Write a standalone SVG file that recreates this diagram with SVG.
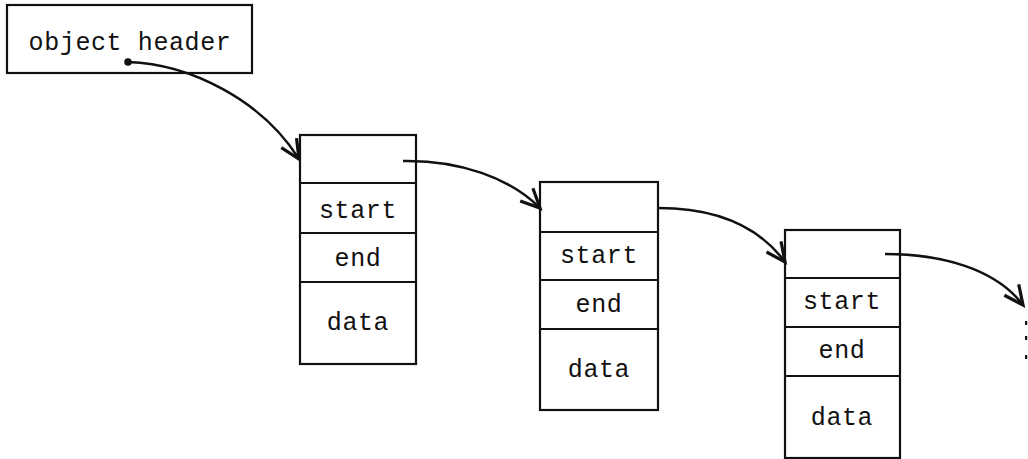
<svg xmlns="http://www.w3.org/2000/svg" width="1028" height="459" viewBox="0 0 1028 459">
<style>
.box{fill:#fff;stroke:#111;stroke-width:2.2}
.div{stroke:#111;stroke-width:1.8}
.t{font-family:"Liberation Mono",monospace;font-size:25px;letter-spacing:0.6px;fill:#111;text-anchor:middle}
.c{fill:none;stroke:#111;stroke-width:2.5}
</style>
<defs>
<marker id="ah" markerUnits="userSpaceOnUse" markerWidth="26" markerHeight="26" viewBox="0 0 26 26" refX="22" refY="13" orient="auto">
<path d="M3,4 L22,13 L3,22" fill="none" stroke="#111" stroke-width="3.2" stroke-linejoin="miter"/>
</marker>
</defs>
<g id="header">
<rect class="box" x="7" y="5" width="245" height="68"/>
<text class="t" x="130" y="50">object header</text>
</g>
<g id="node1">
<rect class="box" x="300" y="135" width="116" height="229"/>
<line class="div" x1="300" y1="183" x2="416" y2="183"/>
<line class="div" x1="300" y1="233" x2="416" y2="233"/>
<line class="div" x1="300" y1="282" x2="416" y2="282"/>
<text class="t" x="358" y="218">start</text>
<text class="t" x="358" y="266">end</text>
<text class="t" x="358" y="330">data</text>
</g>
<g id="node2">
<rect class="box" x="540" y="182" width="118" height="228"/>
<line class="div" x1="540" y1="232" x2="658" y2="232"/>
<line class="div" x1="540" y1="280" x2="658" y2="280"/>
<line class="div" x1="540" y1="329" x2="658" y2="329"/>
<text class="t" x="599" y="263">start</text>
<text class="t" x="599" y="312">end</text>
<text class="t" x="599" y="377">data</text>
</g>
<g id="node3">
<rect class="box" x="785" y="230" width="115" height="228"/>
<line class="div" x1="785" y1="278" x2="900" y2="278"/>
<line class="div" x1="785" y1="327" x2="900" y2="327"/>
<line class="div" x1="785" y1="376" x2="900" y2="376"/>
<text class="t" x="842" y="309">start</text>
<text class="t" x="842" y="358">end</text>
<text class="t" x="842" y="425">data</text>
</g>
<g id="connectors">
<circle cx="128" cy="62" r="3.8" fill="#111"/>
<path class="c" d="M128,62 C190,64 262,100 299,159" marker-end="url(#ah)"/>
<path class="c" d="M403,161 C460,160 510,178 540,208" marker-end="url(#ah)"/>
<path class="c" d="M658,208 C720,208 760,228 785,262" marker-end="url(#ah)"/>
<path class="c" d="M885,254 C940,254 995,268 1023,305" marker-end="url(#ah)"/>
</g>
<g id="ellipsis" fill="#111">
<rect x="1025" y="321" width="2.2" height="4"/>
<rect x="1025" y="336" width="2.2" height="4"/>
<rect x="1025" y="355" width="2.2" height="4"/>
</g>
</svg>
